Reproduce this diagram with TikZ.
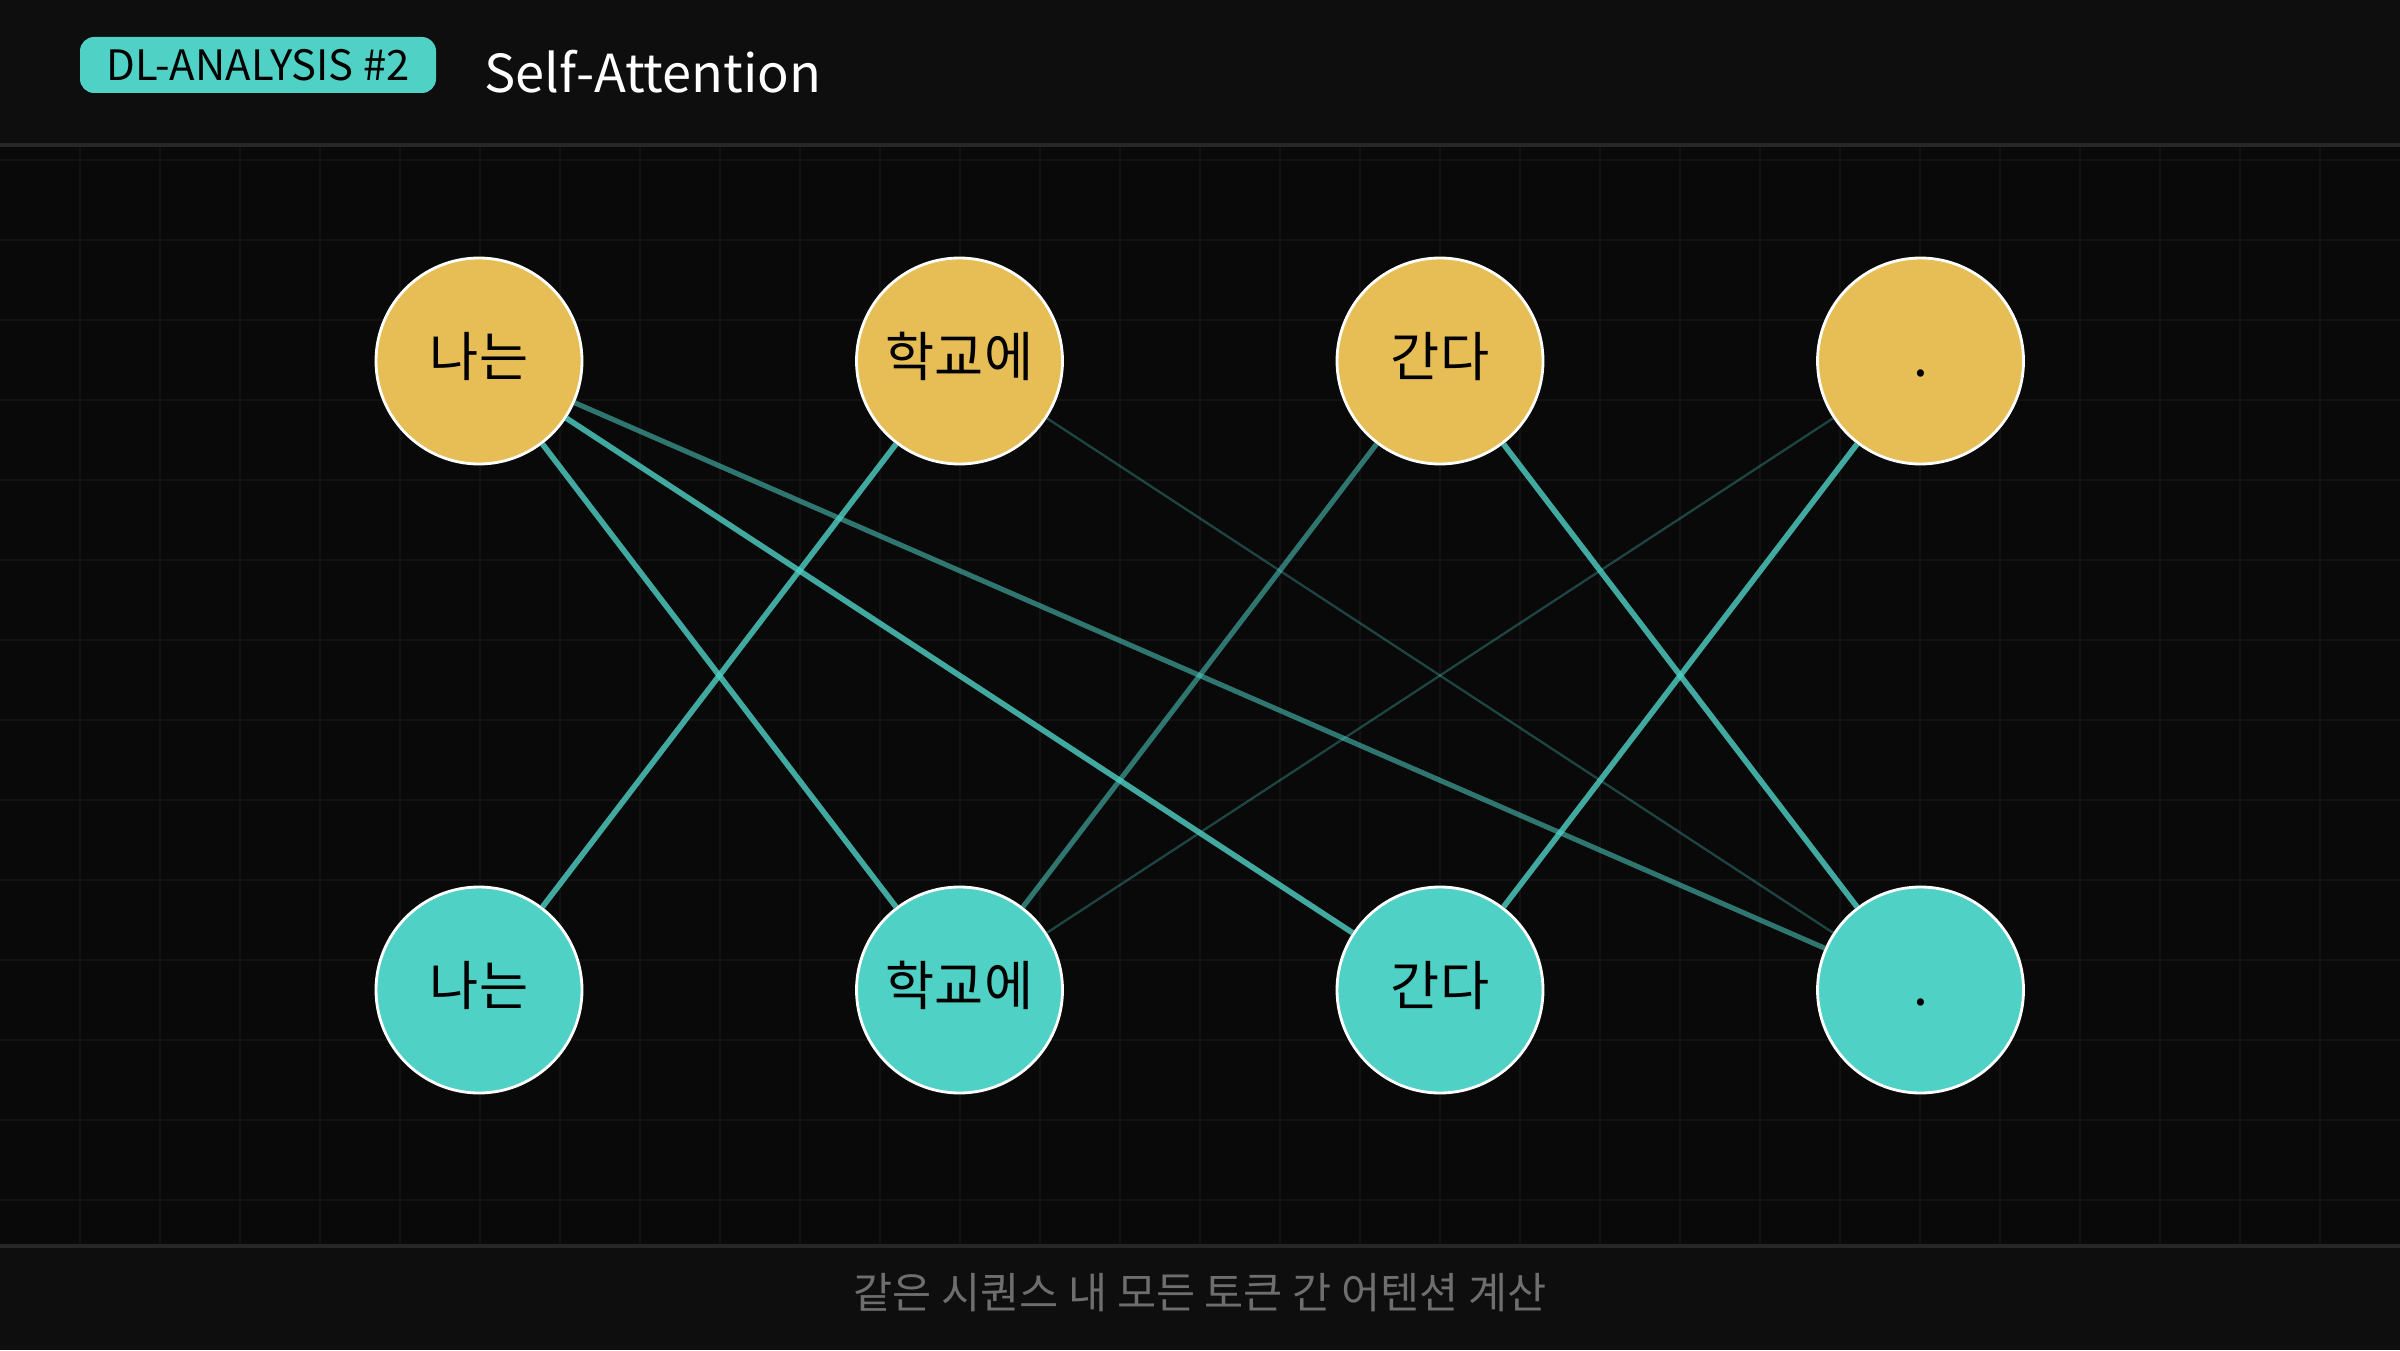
\documentclass[tikz,border=0pt]{standalone}
\usepackage{fontspec}
\setmainfont{Noto Sans CJK KR}
\usetikzlibrary{positioning}
\definecolor{bg-main}{HTML}{090909}
\definecolor{bg-bar}{HTML}{0E0E0E}
\definecolor{bar-line}{HTML}{272727}
\definecolor{grid-line}{HTML}{121212}
\definecolor{tok-gold}{HTML}{E6BE55}
\definecolor{tok-teal}{HTML}{4FD1C5}
\definecolor{note-gray}{HTML}{6E6E6E}
\tikzset{
    tok/.style = {circle, minimum size=2.06cm, inner sep=0pt, draw=white, line width=0.8pt,
        text=black, font=\fontsize{15.2}{18}\selectfont, text height=0.88em, text depth=0pt},
    qtok/.style = {tok, fill=tok-gold},
    ktok/.style = {tok, fill=tok-teal},
    attn-hi/.style  = {draw=tok-teal, line width=1.6pt, opacity=.8},
    attn-mid/.style = {draw=tok-teal, line width=1.45pt, opacity=.55},
    attn-lo/.style  = {draw=tok-teal, line width=.65pt, opacity=.3},
}

\begin{document}
\begin{tikzpicture}
\useasboundingbox (0,0) rectangle (24,13.5);
\fill[bg-main] (0,0) rectangle (24,13.5);
\fill[bg-bar] (0,12.05) rectangle (24,13.5);
\fill[bg-bar] (0,0) rectangle (24,1.04);

\foreach \x in {0.8,1.6,...,23.3}
    \draw[grid-line, line width=.4pt] (\x,1.04) -- (\x,12.05);
\foreach \y in {1.5,2.3,...,12}
    \draw[grid-line, line width=.4pt] (0,\y) -- (24,\y);

\draw[bar-line, line width=1pt] (0,12.05) -- (24,12.05);
\draw[bar-line, line width=1pt] (0,1.04) -- (24,1.04);

\node[fill=tok-teal, rounded corners=4pt, minimum width=3.56cm, minimum height=.56cm, inner sep=0pt,
    text=black, font=\fontsize{11.9}{14}\selectfont] (badge) at (2.58,12.85) {DL-ANALYSIS \#2};
\node[anchor=west, inner sep=0pt, text=white, font=\fontsize{14.9}{17}\selectfont] (title) at (4.84,12.78) {Self-Attention};

\foreach \w [count=\i] in {나는,학교에,간다,.}{
    \node[qtok] (top\i) at ({4.79+4.805*(\i-1)},9.89) {\w};
    \node[ktok] (bot\i) at ({4.79+4.805*(\i-1)},3.60) {\w};
}

\draw[attn-lo] (top2) -- (bot4);
\draw[attn-lo] (top4) -- (bot2);
\draw[attn-mid] (top1) -- (bot4);
\draw[attn-mid] (top3) -- (bot2);
\draw[attn-hi] (top1) -- (bot2);
\draw[attn-hi] (top1) -- (bot3);
\draw[attn-hi] (top2) -- (bot1);
\draw[attn-hi] (top3) -- (bot4);
\draw[attn-hi] (top4) -- (bot3);

\node[text=note-gray, font=\fontsize{12.1}{14}\selectfont] (note) at (12,0.57) {같은 시퀀스 내 모든 토큰 간 어텐션 계산};
\end{tikzpicture}
\end{document}
